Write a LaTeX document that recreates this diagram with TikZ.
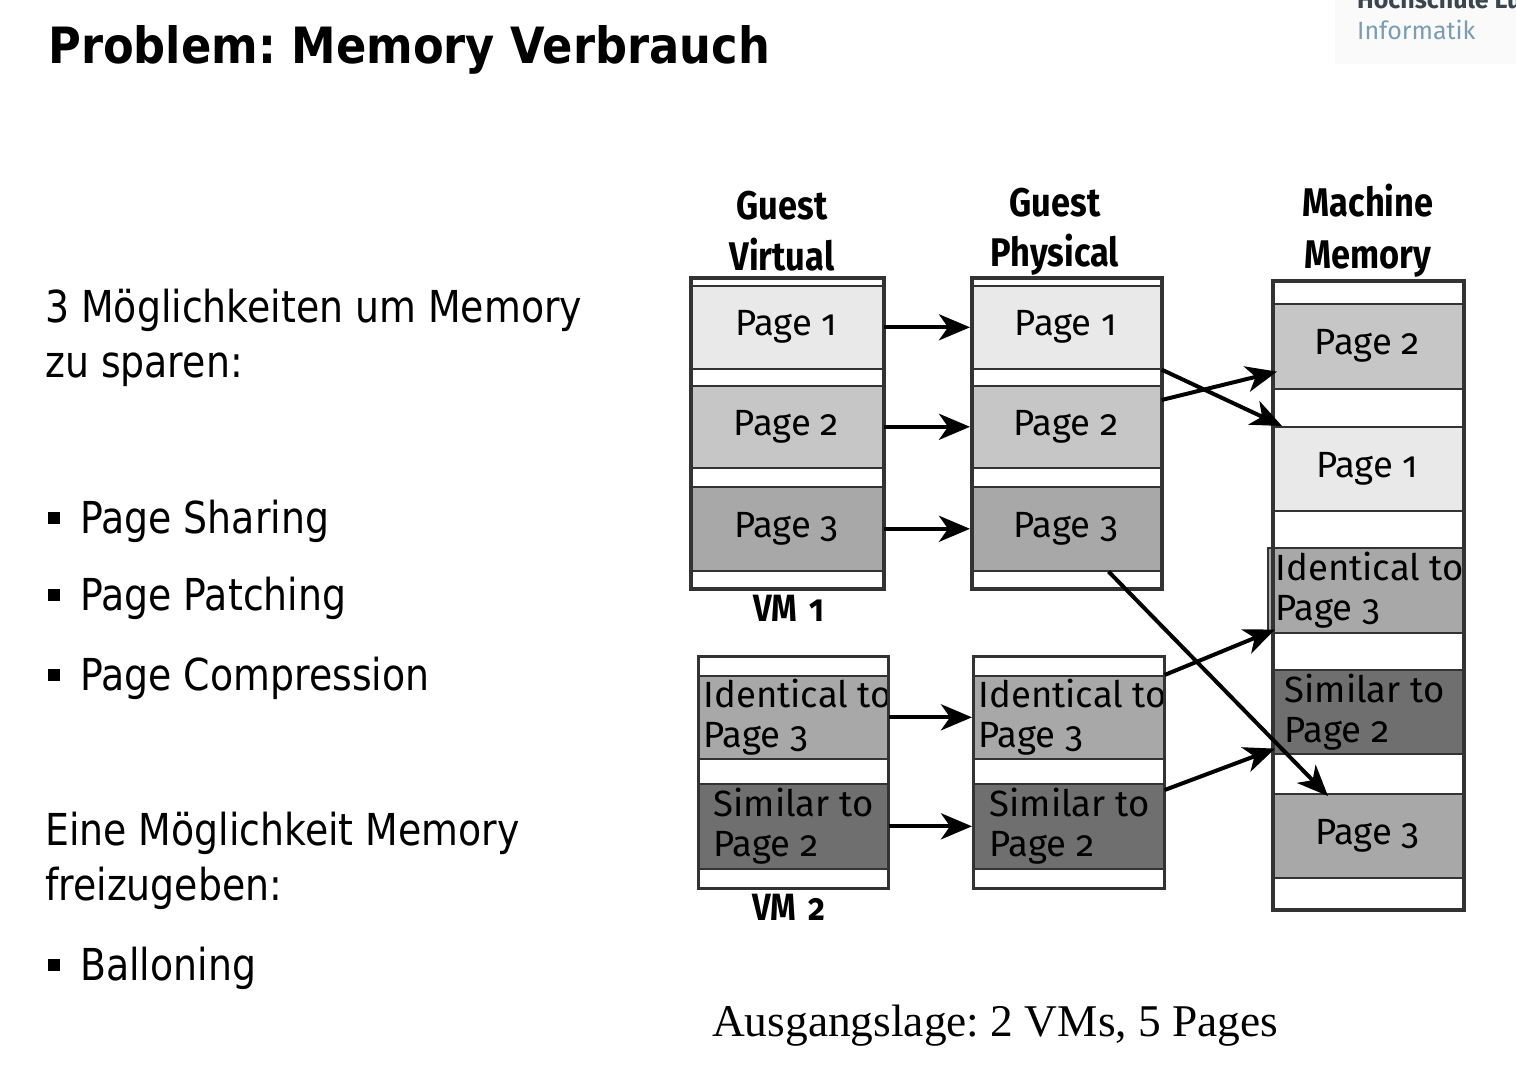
\documentclass[tikz,border=0pt]{standalone}
\usepackage{fontspec}
\usetikzlibrary{arrows.meta}
\newfontfamily\titlefont[FakeStretch=0.895]{DejaVu Sans}
\newfontfamily\bodyfont[FakeStretch=0.86]{DejaVu Sans}
\newfontfamily\diagfont[Numbers=OldStyle]{Fira Sans}
\newfontfamily\diaghead[Numbers=OldStyle,FakeStretch=0.86]{Fira Sans}
\newfontfamily\capfont{Liberation Serif}
\definecolor{pgA}{HTML}{E9E9E9}
\definecolor{pgB}{HTML}{C6C6C6}
\definecolor{pgC}{HTML}{A8A8A8}
\definecolor{pgD}{HTML}{6F6F6F}
\definecolor{edge}{HTML}{333333}
\definecolor{logodark}{HTML}{3A4550}
\definecolor{logoblue}{HTML}{7B9DB3}
\tikzset{
  pagebox/.style={draw=edge, line width=1.6pt, inner sep=0pt, anchor=north west,
    font=\diagfont\fontsize{36.5}{40}\selectfont},
  colbox/.style={draw=edge, line width=3.5pt, inner sep=0pt, anchor=north west, fill=none},
  cliptext/.style={draw=none, fill=none, inner sep=0pt, minimum width=0pt, minimum height=0pt,
    align=left, anchor=west, font=\diagfont\fontsize{36.5}{40}\selectfont},
  headtext/.style={anchor=base, inner sep=0pt, font=\diaghead\bfseries\fontsize{40}{48}\selectfont},
  vmtext/.style={anchor=base, inner sep=0pt, font=\diaghead\bfseries\fontsize{38}{44}\selectfont},
  bodytext/.style={anchor=base west, inner sep=0pt, font=\bodyfont\fontsize{44}{52}\selectfont},
  mapto/.style={-{Stealth[length=31pt,width=26pt,inset=9pt]}, line width=4pt, draw=black},
  bulletsq/.style={fill=black}
}
\begin{document}
\frenchspacing
\begin{tikzpicture}[x=1pt,y=-1pt]
\clip (0,0) rectangle (1516,1074);
\fill[white] (0,0) rectangle (1516,1074);

% logo
\fill[black!2] (1335,0) rectangle (1516,64);
\node[anchor=base west, inner sep=0pt, text=logodark, font=\diagfont\bfseries\fontsize{25}{30}\selectfont] (logotop) at (1357,8) {Hochschule Lu};
\node[anchor=base west, inner sep=0pt, text=logoblue, font=\diagfont\fontsize{25}{30}\selectfont] (logoinf) at (1357,39) {Informatik};

% title
\node[anchor=base west, inner sep=0pt, font=\titlefont\bfseries\fontsize{50}{60}\selectfont] (title) at (48,63) {Problem: Memory Verbrauch};

% left text
\node[bodytext] (t1) at (45,322) {3 Möglichkeiten um Memory};
\node[bodytext] (t2) at (45,377) {zu sparen:};
\fill[bulletsq] (48,512) rectangle (60,524);
\node[bodytext] (b1) at (80,533) {Page Sharing};
\fill[bulletsq] (48,589) rectangle (60,601);
\node[bodytext] (b2) at (80,610) {Page Patching};
\fill[bulletsq] (48,669) rectangle (60,681);
\node[bodytext] (b3) at (80,690) {Page Compression};
\node[bodytext] (t3) at (45,845) {Eine Möglichkeit Memory};
\node[bodytext] (t4) at (45,900) {freizugeben:};
\fill[bulletsq] (48,959) rectangle (60,971);
\node[bodytext] (b4) at (80,980) {Balloning};

% column headings
\node[headtext] (h1a) at (782,219) {Guest};
\node[headtext] (h1b) at (782,270) {Virtual};
\node[headtext] (h2a) at (1055,216) {Guest};
\node[headtext] (h2b) at (1055,266) {Physical};
\node[headtext] (h3a) at (1368,216) {Machine};
\node[headtext] (h3b) at (1368,268) {Memory};
\node[vmtext] (vm1) at (789,621) {VM\,\,1};
\node[vmtext] (vm2) at (789,920) {VM\,\,2};

% VM1 guest virtual
\node[pagebox, fill=pgA, minimum width=193pt, minimum height=83pt] (gv1a) at (689,285) {Page 1};
\node[pagebox, fill=pgB, minimum width=193pt, minimum height=82pt] (gv1b) at (689,385) {Page 2};
\node[pagebox, fill=pgC, minimum width=193pt, minimum height=84pt] (gv1c) at (689,486) {Page 3};
\node[colbox, minimum width=193pt, minimum height=311pt] (gv1) at (689,276) {};
% VM1 guest physical
\node[pagebox, fill=pgA, minimum width=190pt, minimum height=83pt] (gp1a) at (970,285) {Page 1};
\node[pagebox, fill=pgB, minimum width=190pt, minimum height=82pt] (gp1b) at (970,385) {Page 2};
\node[pagebox, fill=pgC, minimum width=190pt, minimum height=84pt] (gp1c) at (970,486) {Page 3};
\node[colbox, minimum width=190pt, minimum height=311pt] (gp1) at (970,276) {};

% VM2 guest virtual
\node[pagebox, fill=pgC, minimum width=190pt, minimum height=83pt,
  path picture={\node[cliptext] at ([xshift=5pt]path picture bounding box.west) {Identical to\\Page 3};}] (gv2a) at (697,675) {};
\node[pagebox, fill=pgD, minimum width=190pt, minimum height=85pt,
  path picture={\node[cliptext] at ([xshift=15pt]path picture bounding box.west) {Similar to\\Page 2};}] (gv2b) at (697,783) {};
\node[colbox, line width=2.6pt, minimum width=190pt, minimum height=232pt] (gv2) at (697,655) {};
% VM2 guest physical
\node[pagebox, fill=pgC, minimum width=191pt, minimum height=83pt,
  path picture={\node[cliptext] at ([xshift=5pt]path picture bounding box.west) {Identical to\\Page 3};}] (gp2a) at (972,675) {};
\node[pagebox, fill=pgD, minimum width=191pt, minimum height=85pt,
  path picture={\node[cliptext] at ([xshift=16pt]path picture bounding box.west) {Similar to\\Page 2};}] (gp2b) at (972,783) {};
\node[colbox, line width=2.6pt, minimum width=191pt, minimum height=232pt] (gp2) at (972,655) {};

% machine memory
\node[pagebox, fill=pgB, minimum width=191pt, minimum height=85pt] (mma) at (1271,303) {Page 2};
\node[pagebox, fill=pgA, minimum width=191pt, minimum height=84pt] (mmb) at (1271,426) {Page 1};
\node[pagebox, fill=pgC, minimum width=195pt, minimum height=85pt,
  path picture={\node[cliptext] at ([xshift=7pt]path picture bounding box.west) {Identical to\\Page 3};}] (mmc) at (1267,547) {};
\node[pagebox, fill=pgD, minimum width=191pt, minimum height=84pt,
  path picture={\node[cliptext] at ([xshift=12pt]path picture bounding box.west) {Similar to\\Page 2};}] (mmd) at (1271,669) {};
\node[pagebox, fill=pgC, minimum width=191pt, minimum height=84pt] (mme) at (1271,793) {Page 3};
\node[colbox, minimum width=191pt, minimum height=629pt] (mm) at (1271,279) {};

% arrows VM1
\draw[mapto] (gv1a.east) -- (gp1a.west);
\draw[mapto] (gv1b.east) -- (gp1b.west);
\draw[mapto] (gv1c.east) -- (gp1c.west);
\draw[mapto] (gp1a.south east) -- ([xshift=11pt]mmb.north west);
\draw[mapto] ([yshift=-15pt]gp1b.north east) -- ([xshift=6pt,yshift=18pt]mma.south west);
\draw[mapto] ([xshift=-53pt]gp1c.south east) -- ([xshift=57pt,yshift=-3pt]mme.north west);
% arrows VM2
\draw[mapto] (gv2a.east) -- (gp2a.west);
\draw[mapto] (gv2b.east) -- (gp2b.west);
\draw[mapto] (gp2a.north east) -- ([xshift=8pt,yshift=4pt]mmc.south west);
\draw[mapto] ([yshift=-7pt]gp2b.north east) -- ([xshift=4pt,yshift=6pt]mmd.south west);

% caption
\node[anchor=base west, inner sep=0pt, font=\capfont\fontsize{45.4}{54}\selectfont] (caption) at (712,1036) {Ausgangslage: 2 VMs, 5 Pages};
\end{tikzpicture}
\end{document}
